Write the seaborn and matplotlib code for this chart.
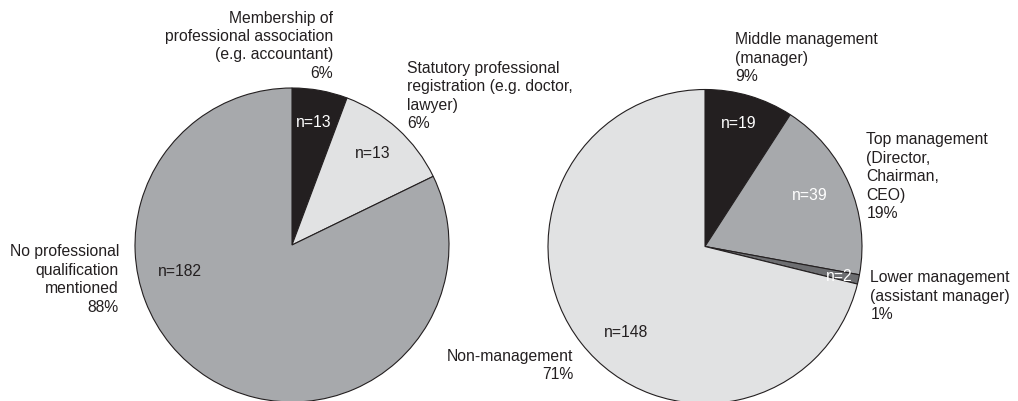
import matplotlib
matplotlib.use("Agg")
import matplotlib.pyplot as plt
import seaborn as sns

# left pie: professional qualification
qual_labels = ["Membership of\nprofessional association\n(e.g. accountant)",
               "Statutory professional\nregistration (e.g. doctor,\nlawyer)",
               "No professional\nqualification\nmentioned"]
qual_n = [13, 13, 182]
qual_pct = ["6%", "6%", "88%"]
qual_share = [5.7, 12.1, 82.2]   # slice sizes as drawn in the picture

# right pie: management level
mgmt_labels = ["Middle management\n(manager)",
               "Top management\n(Director,\nChairman,\nCEO)",
               "Lower management\n(assistant manager)",
               "Non-management"]
mgmt_n = [19, 39, 2, 148]
mgmt_pct = ["9%", "19%", "1%", "71%"]

BLACK = "#231f20"
GRAY = "#a7a9ac"
LIGHT = "#e1e2e3"
DARK = "#6d6e71"

sns.set_theme(style="white")
plt.rcParams['font.family'] = ['Liberation Sans', 'DejaVu Sans']

W, H = 1018, 401
fig = plt.figure(figsize=(W / 100, H / 100), dpi=100)
ax = fig.add_axes([0, 0, 1, 1])

wp = dict(edgecolor=BLACK, linewidth=0.8)
ax.pie(qual_share, colors=[BLACK, LIGHT, GRAY], startangle=90, counterclock=False,
       center=(292, H - 245), radius=157, frame=True, wedgeprops=wp)
ax.pie(mgmt_n, colors=[BLACK, GRAY, DARK, LIGHT], startangle=90, counterclock=False,
       center=(705, H - 246.5), radius=157, frame=True, wedgeprops=wp)

ax.set_xlim(0, W)
ax.set_ylim(0, H)
ax.set_aspect('equal')
ax.axis('off')

fs = 11.3
ls = 1.28

# outside labels (position in image pixels, alignment)
qual_pos = [(333, 45.7, 'right'), (407, 96, 'left'), (119, 279.5, 'right')]
for lab, pct, (x, y, ha) in zip(qual_labels, qual_pct, qual_pos):
    ax.text(x, H - y, lab + "\n" + pct, ha=ha, va='center', fontsize=fs,
            linespacing=ls, color=BLACK)

mgmt_pos = [(735, 58.3, 'left'), (866.5, 176.7, 'left'), (870.5, 296.2, 'left'),
            (573.5, 365.3, 'right')]
for lab, pct, (x, y, ha) in zip(mgmt_labels, mgmt_pct, mgmt_pos):
    ax.text(x, H - y, lab + "\n" + pct, ha=ha, va='center', fontsize=fs,
            linespacing=ls, color=BLACK)

# n= labels inside slices
qual_npos = [(313.5, 122.3, 'white'), (372.5, 154, BLACK), (179.5, 271.7, BLACK)]
for n, (x, y, c) in zip(qual_n, qual_npos):
    ax.text(x, H - y, f"n={n}", ha='center', va='center', fontsize=fs, color=c)

mgmt_npos = [(738.5, 124, 'white'), (810, 196, 'white'), (839, 276.7, 'white'),
             (626, 332.3, BLACK)]
for n, (x, y, c) in zip(mgmt_n, mgmt_npos):
    ax.text(x, H - y, f"n={n}", ha='center', va='center', fontsize=fs, color=c)

fig.savefig("out.png", dpi=100, facecolor='white')
